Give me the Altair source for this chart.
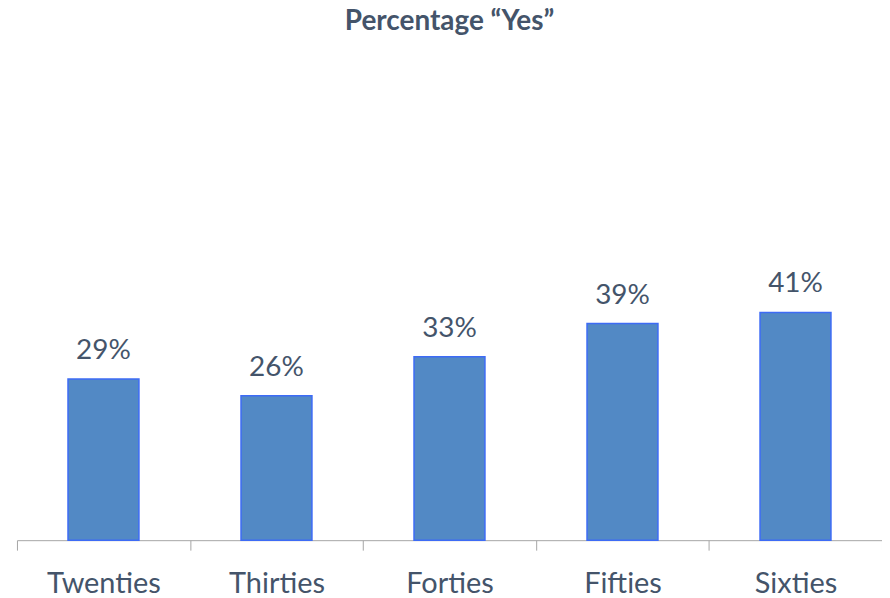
import altair as alt
import pandas as pd

categories = ["Twenties", "Thirties", "Forties", "Fifties", "Sixties"]
values = [0.29, 0.26, 0.33, 0.39, 0.41]
labels = ["29%", "26%", "33%", "39%", "41%"]

df = pd.DataFrame({"decade": categories, "pct": values, "label": labels})

TEXT = "#44546A"
GRAY = "#A6A6A6"

x_enc = alt.X(
    "decade:N",
    sort=categories,
    title=None,
    scale=alt.Scale(paddingInner=0, paddingOuter=0),
    axis=alt.Axis(
        labelAngle=0,
        labelFont="Lato",
        labelFontSize=29,
        labelColor=TEXT,
        labelBaseline="alphabetic",
        labelPadding=42,
        tickSize=10,
        tickColor=GRAY,
        domainColor=GRAY,
        tickBand="extent",
        grid=False,
    ),
)
y_enc = alt.Y("pct:Q", scale=alt.Scale(domain=[0, 0.8]), axis=None)

bars = alt.Chart(df).mark_bar(
    color="#5289C5", stroke="#3D6BF5", strokeWidth=1.5,
    width=alt.RelativeBandSize(0.41),
).encode(x=x_enc, y=y_enc)

text = alt.Chart(df).mark_text(
    dy=-20, baseline="alphabetic", font="Lato", fontSize=28, color=TEXT
).encode(x=alt.X("decade:N", sort=categories), y=y_enc, text="label:N")

chart = (
    alt.layer(bars, text)
    .properties(
        width=868,
        height=446,
        title=alt.TitleParams(
            "Percentage \u201cYes\u201d",
            font="Lato",
            fontSize=28,
            fontWeight="bold",
            color=TEXT,
            anchor="middle",
            frame="group",
            offset=60,
        ),
        padding={"left": 9, "top": 87, "right": 0, "bottom": 57},
        autosize=alt.AutoSizeParams(type="none"),
    )
    .configure_view(stroke=None)
)

chart.save("out.html", embed_options={"renderer": "svg", "actions": False})
